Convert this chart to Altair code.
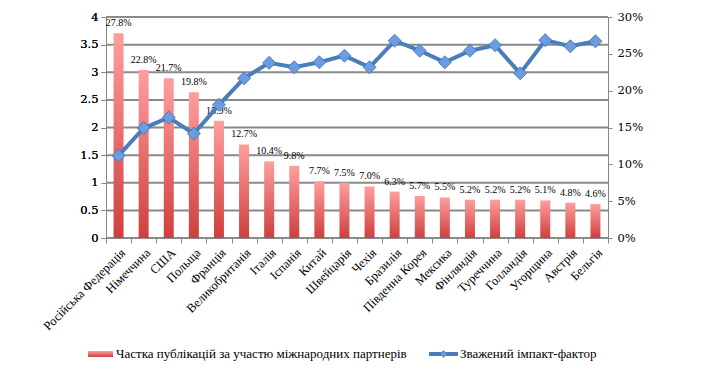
import altair as alt
import pandas as pd

countries = ["Російська Федерація", "Німеччина", "США", "Польща", "Франція",
             "Великобританія", "Італія", "Іспанія", "Китай", "Швейцарія",
             "Чехія", "Бразилія", "Південна Корея", "Мексика", "Фінляндія",
             "Туреччина", "Голландія", "Угорщина", "Австрія", "Бельгія"]
share_pct = [27.8, 22.8, 21.7, 19.8, 15.9, 12.7, 10.4, 9.8, 7.7, 7.5,
             7.0, 6.3, 5.7, 5.5, 5.2, 5.2, 5.2, 5.1, 4.8, 4.6]
impact = [1.49, 1.99, 2.18, 1.89, 2.41, 2.89, 3.17, 3.09, 3.18, 3.30,
          3.09, 3.57, 3.39, 3.18, 3.39, 3.49, 2.98, 3.58, 3.47, 3.56]
left_ticks = [0, 0.5, 1, 1.5, 2, 2.5, 3, 3.5, 4]
right_ticks = [0, 0.05, 0.10, 0.15, 0.20, 0.25, 0.30]
legend_bar = "Частка публікацій за участю міжнародних партнерів"
legend_line = "Зважений імпакт-фактор"

LEFT_MAX = 4
RIGHT_MAX = 0.3

df = pd.DataFrame({
    "country": countries,
    "share": [v / 100 for v in share_pct],
    "impact": impact,
})
grid_df = pd.DataFrame({"impact": left_ticks})

FONT = "Liberation Serif"
NUMFONT = "DejaVu Serif"
GRAY = "#878787"
GRID = "#8a8a8a"
LINE = "#4a7ebb"

bar_grad = alt.Gradient(
    gradient="linear",
    stops=[alt.GradientStop(color="#ff9e9e", offset=0),
           alt.GradientStop(color="#cf3f3d", offset=1)],
    x1=0, x2=0, y1=0, y2=1,
)

xenc = alt.X("country:N", sort=countries,
             scale=alt.Scale(paddingInner=0, paddingOuter=0),
             axis=alt.Axis(title=None, labelAngle=-45, tickBand="extent",
                           tickSize=5, labelPadding=3, labelFontSize=12.5,
                           labelFont=FONT, labelColor="#000", domainColor=GRAY,
                           tickColor=GRAY, grid=False, labelOverlap=False))

yleft = alt.Y("impact:Q", scale=alt.Scale(domain=[0, LEFT_MAX]),
              axis=alt.Axis(title=None, values=left_ticks, format="~g", grid=False,
                            tickSize=5, labelPadding=3,
                            labelFont=NUMFONT, labelFontSize=11.5, labelColor="#000",
                            domainColor=GRAY, tickColor=GRAY))
yright = alt.Y("share:Q", scale=alt.Scale(domain=[0, RIGHT_MAX]),
               axis=alt.Axis(title=None, orient="right", values=right_ticks,
                             format=".0%", grid=False, tickSize=4, labelPadding=5,
                             labelFont=NUMFONT, labelFontSize=11.5, labelColor="#000",
                             domainColor=GRAY, tickColor=GRAY))

base = alt.Chart(df)

# gridlines at the left-axis ticks
grid = alt.Chart(grid_df).mark_rule(stroke=GRID, color=GRID, strokeWidth=2,
                                    opacity=1, strokeOpacity=1).encode(
    y=yleft, x=alt.value(0), x2=alt.value(502))

line = base.mark_line(color=LINE, strokeWidth=4).encode(x=xenc, y=yleft)
pts = base.mark_point(shape="diamond", filled=True, size=170, fill="#6b9be0",
                      stroke="#3f6faf", strokeWidth=0.8, opacity=1).encode(
    x=xenc, y=yleft)

bars = base.mark_bar(size=10, color=bar_grad, opacity=1).encode(x=xenc, y=yright)
labels = base.mark_text(font=FONT, fontSize=10, baseline="bottom", dy=-5,
                        color="#000").encode(
    x=xenc, y=yright, text=alt.Text("share:Q", format=".1%"))

bar_layer = alt.layer(bars, labels)
line_layer = alt.layer(line, pts)

# legend
leg = alt.Chart(pd.DataFrame({"a": [legend_bar], "b": [legend_line]}))
leg_rect = leg.mark_rect(color=bar_grad).encode(
    x=alt.value(-18), x2=alt.value(7), y=alt.value(334), y2=alt.value(340))
leg_text1 = leg.mark_text(font=FONT, fontSize=13, align="left",
                          baseline="middle", color="#000").encode(
    x=alt.value(10), y=alt.value(337), text="a:N")
leg_rule = leg.mark_rule(color=LINE, strokeWidth=4).encode(
    x=alt.value(323), x2=alt.value(352), y=alt.value(337))
leg_pt = leg.mark_point(shape="diamond", filled=True, size=50, fill="#6b9be0",
                        stroke="#3f6faf", strokeWidth=0.6, opacity=1).encode(
    x=alt.value(337.5), y=alt.value(337))
leg_text2 = leg.mark_text(font=FONT, fontSize=13, align="left",
                          baseline="middle", color="#000").encode(
    x=alt.value(354), y=alt.value(337), text="b:N")

chart = alt.layer(
    grid, bar_layer, line_layer, leg_rect, leg_text1, leg_rule, leg_pt, leg_text2
).resolve_scale(y="independent").properties(
    width=502, height=221,
    autosize=alt.AutoSizeParams(type="none"),
    padding={"left": 98, "top": 9, "right": 97, "bottom": 128},
).configure_view(stroke=None).configure_text(font=FONT)

chart.save("out.html", embed_options={"renderer": "svg", "actions": False})
